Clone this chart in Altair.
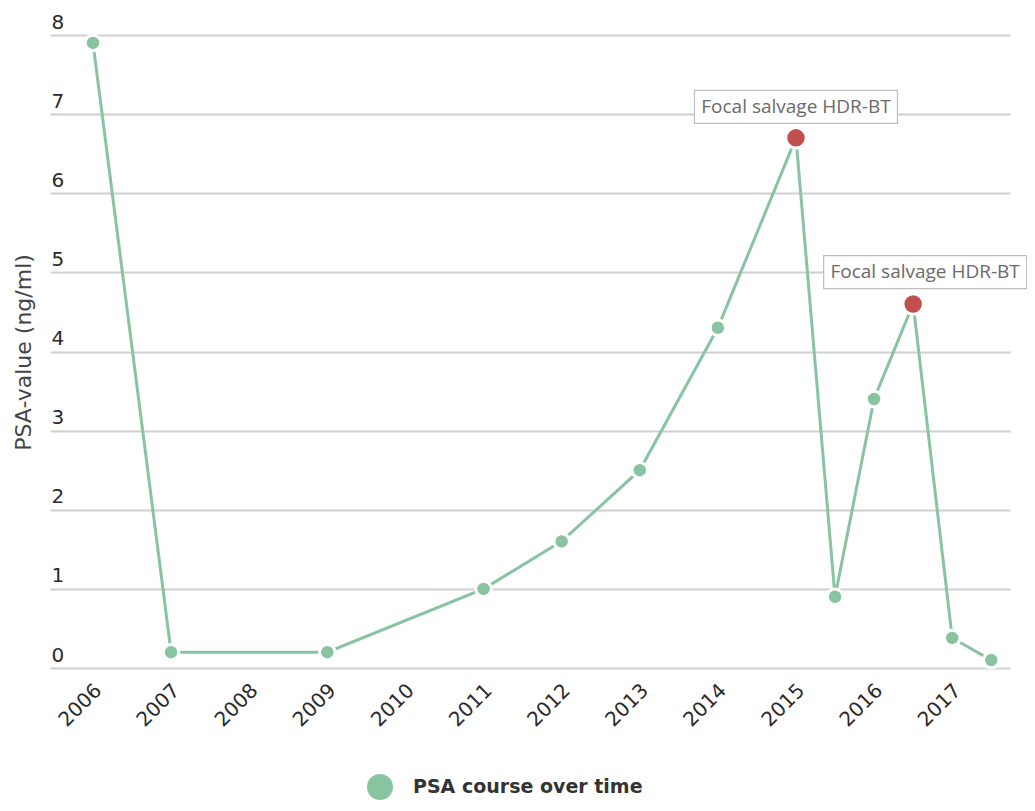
import altair as alt
import pandas as pd

years = [2006, 2007, 2009, 2011, 2012, 2013, 2014, 2015, 2015.5, 2016, 2016.5, 2017, 2017.5]
psa = [7.9, 0.2, 0.2, 1.0, 1.6, 2.5, 4.3, 6.7, 0.9, 3.4, 4.6, 0.38, 0.1]
events = ["", "", "", "", "", "", "", "Focal salvage HDR-BT", "", "", "Focal salvage HDR-BT", "", ""]
tick_years = list(range(2006, 2018))
y_ticks = list(range(0, 9))
series_name = "PSA course over time"

GREEN = "#88c4a0"
RED = "#c0504d"
AXFONT = "DejaVu Sans"

df = pd.DataFrame({"year": years, "psa": psa, "event": events, "series": series_name})
df["idx"] = range(len(df))

x = alt.X("year:Q",
          scale=alt.Scale(domain=[2005.45, 2017.74], nice=False, zero=False),
          axis=alt.Axis(values=tick_years, format="d", labelAngle=-45, labelAlign="right",
                        labelBaseline="middle", labelPadding=19, labelOffset=5, ticks=False,
                        domain=False, grid=False, title=None, labelFont=AXFONT,
                        labelFontSize=20, labelColor="#2a2a2a"))
y = alt.Y("psa:Q",
          scale=alt.Scale(domain=[0, 8], nice=False),
          axis=alt.Axis(values=y_ticks, format="d", ticks=False, tickSize=0, domain=False,
                        labelAlign="left", labelBaseline="alphabetic", labelPadding=-1,
                        labelOffset=-7, labelFont=AXFONT, labelFontSize=20,
                        labelColor="#2a2a2a", gridColor="#cfcfcf", gridWidth=2,
                        title="PSA-value (ng/ml)", titleFont=AXFONT, titleFontSize=22,
                        titleFontWeight="normal", titleColor="#444444", titleX=-27,
                        titleY=317, titleAngle=-90, titleAlign="center",
                        titleBaseline="middle"))

base = alt.Chart(df)

line = base.mark_line(color=GREEN, strokeWidth=3).encode(x=x, y=y, order="idx:Q")

pts = base.mark_circle(size=240, opacity=1, stroke="white", strokeWidth=3).encode(
    x="year:Q", y="psa:Q",
    color=alt.Color("series:N",
                    scale=alt.Scale(domain=[series_name], range=[GREEN]),
                    legend=alt.Legend(title=None, orient="none", legendX=317, legendY=739,
                                      symbolType="circle", symbolSize=676,
                                      symbolStrokeWidth=0, symbolOpacity=1,
                                      labelFont=AXFONT, labelFontSize=19,
                                      labelFontWeight="bold", labelColor="#333333",
                                      labelOffset=20, labelLimit=500)))

ev = base.transform_filter(alt.datum.event != "")
red = ev.mark_circle(size=420, opacity=1, color=RED, stroke="white", strokeWidth=3).encode(
    x="year:Q", y="psa:Q")

box1 = ev.transform_filter(alt.datum.year == 2015).mark_rect(
    width=203, height=33, fill="white", stroke="#bdbdbd", strokeWidth=1.2, yOffset=-31
).encode(x="year:Q", y="psa:Q")
box2 = ev.transform_filter(alt.datum.year == 2016.5).mark_rect(
    width=203, height=33, fill="white", stroke="#bdbdbd", strokeWidth=1.2, yOffset=-32, xOffset=12
).encode(x="year:Q", y="psa:Q")
txt1 = ev.transform_filter(alt.datum.year == 2015).mark_text(
    font="Open Sans", fontSize=19, color="#6a6a6a", yOffset=-31, baseline="middle"
).encode(x="year:Q", y="psa:Q", text="event:N")
txt2 = ev.transform_filter(alt.datum.year == 2016.5).mark_text(
    font="Open Sans", fontSize=19, color="#6a6a6a", yOffset=-32, xOffset=12, baseline="middle"
).encode(x="year:Q", y="psa:Q", text="event:N")

chart = alt.layer(line, pts, red, box1, box2, txt1, txt2).properties(
    width=960, height=633,
    autosize=alt.AutoSizeParams(type="none"),
    padding={"left": 42, "top": 27, "right": 17, "bottom": 135},
).configure_view(stroke=None)

chart.save("out.html", embed_options={"renderer": "svg", "actions": False})
